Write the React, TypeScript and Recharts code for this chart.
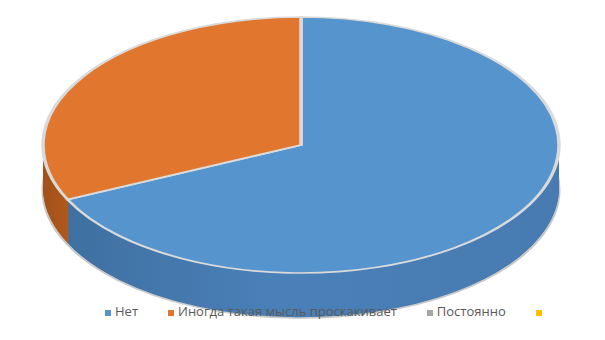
import React from "react";
import { Cell, Legend, Pie, PieChart } from "recharts";

const names = ["Нет", "Иногда такая мысль проскакивает", "Постоянно", ""];
const values = [68, 32, 0, 0];
const topColors = ["#5694cd", "#e1772f", "#a5a5a5", "#ffc000"];
const wallFills = ["url(#wallBlue)", "url(#wallOrange)", "#7c7c7c", "#bf9000"];

const data = names.map((name, i) => ({ name, value: values[i] }));

// flat pie squashed vertically to fake the tilted disc
const SQUASH = 128 / 258;
const CX = 301;
const TOP_Y = 145;
const RADIUS = 258;
const DEPTH = 45;
const LAYERS = 30;

const cyTop = TOP_Y / SQUASH;
const layerOffsets = Array.from({ length: LAYERS }, (_, i) => ((LAYERS - i) * DEPTH) / LAYERS / SQUASH);

const css = `
body { margin: 0; }
.recharts-pie { transform: scaleY(${SQUASH}); transform-origin: 0 0; }
.recharts-legend-item { margin-right: 30px !important; }
`;

export default function App() {
  return (
    <div style={{ width: 605, height: 340, background: "#fff", fontFamily: "'Open Sans', sans-serif" }}>
      <style>{css}</style>
      <PieChart width={605} height={340} margin={{ top: 0, right: 0, bottom: 0, left: 0 }}>
        <defs>
          <linearGradient id="wallBlue" gradientUnits="userSpaceOnUse" x1={43} y1={0} x2={560} y2={0}>
            <stop offset="0%" stopColor="#3e6e9f" />
            <stop offset="45%" stopColor="#4a80b8" />
            <stop offset="100%" stopColor="#477bb1" />
          </linearGradient>
          <linearGradient id="wallOrange" gradientUnits="userSpaceOnUse" x1={43} y1={0} x2={80} y2={0}>
            <stop offset="0%" stopColor="#a2511a" />
            <stop offset="100%" stopColor="#b65c1e" />
          </linearGradient>
        </defs>
        {layerOffsets.map((off, li) => (
          <Pie
            key={li}
            data={data}
            dataKey="value"
            nameKey="name"
            cx={CX}
            cy={cyTop + off}
            outerRadius={RADIUS}
            startAngle={90}
            endAngle={-270}
            legendType="none"
            stroke={li === 0 ? "#c9c9c9" : "none"}
            strokeWidth={li === 0 ? 3 : 0}
            isAnimationActive={false}
          >
            {data.map((d, i) => (
              <Cell key={i} fill={wallFills[i]} />
            ))}
          </Pie>
        ))}
        <Pie
          data={data}
          dataKey="value"
          nameKey="name"
          cx={CX}
          cy={cyTop}
          outerRadius={RADIUS}
          startAngle={90}
          endAngle={-270}
          stroke="#dadada"
          strokeWidth={3.5}
          legendType="square"
          isAnimationActive={false}
        >
          {data.map((d, i) => (
            <Cell key={i} fill={topColors[i]} />
          ))}
        </Pie>
        <Legend
          layout="horizontal"
          align="left"
          verticalAlign="bottom"
          iconType="square"
          iconSize={6}
          itemSorter={(item: any) => names.indexOf(item.value)}
          wrapperStyle={{ left: 105, top: 302, bottom: "auto", width: "auto", fontSize: 13, lineHeight: "18px" }}
          formatter={(v) => <span style={{ color: "#595959" }}>{v}</span>}
        />
      </PieChart>
    </div>
  );
}
